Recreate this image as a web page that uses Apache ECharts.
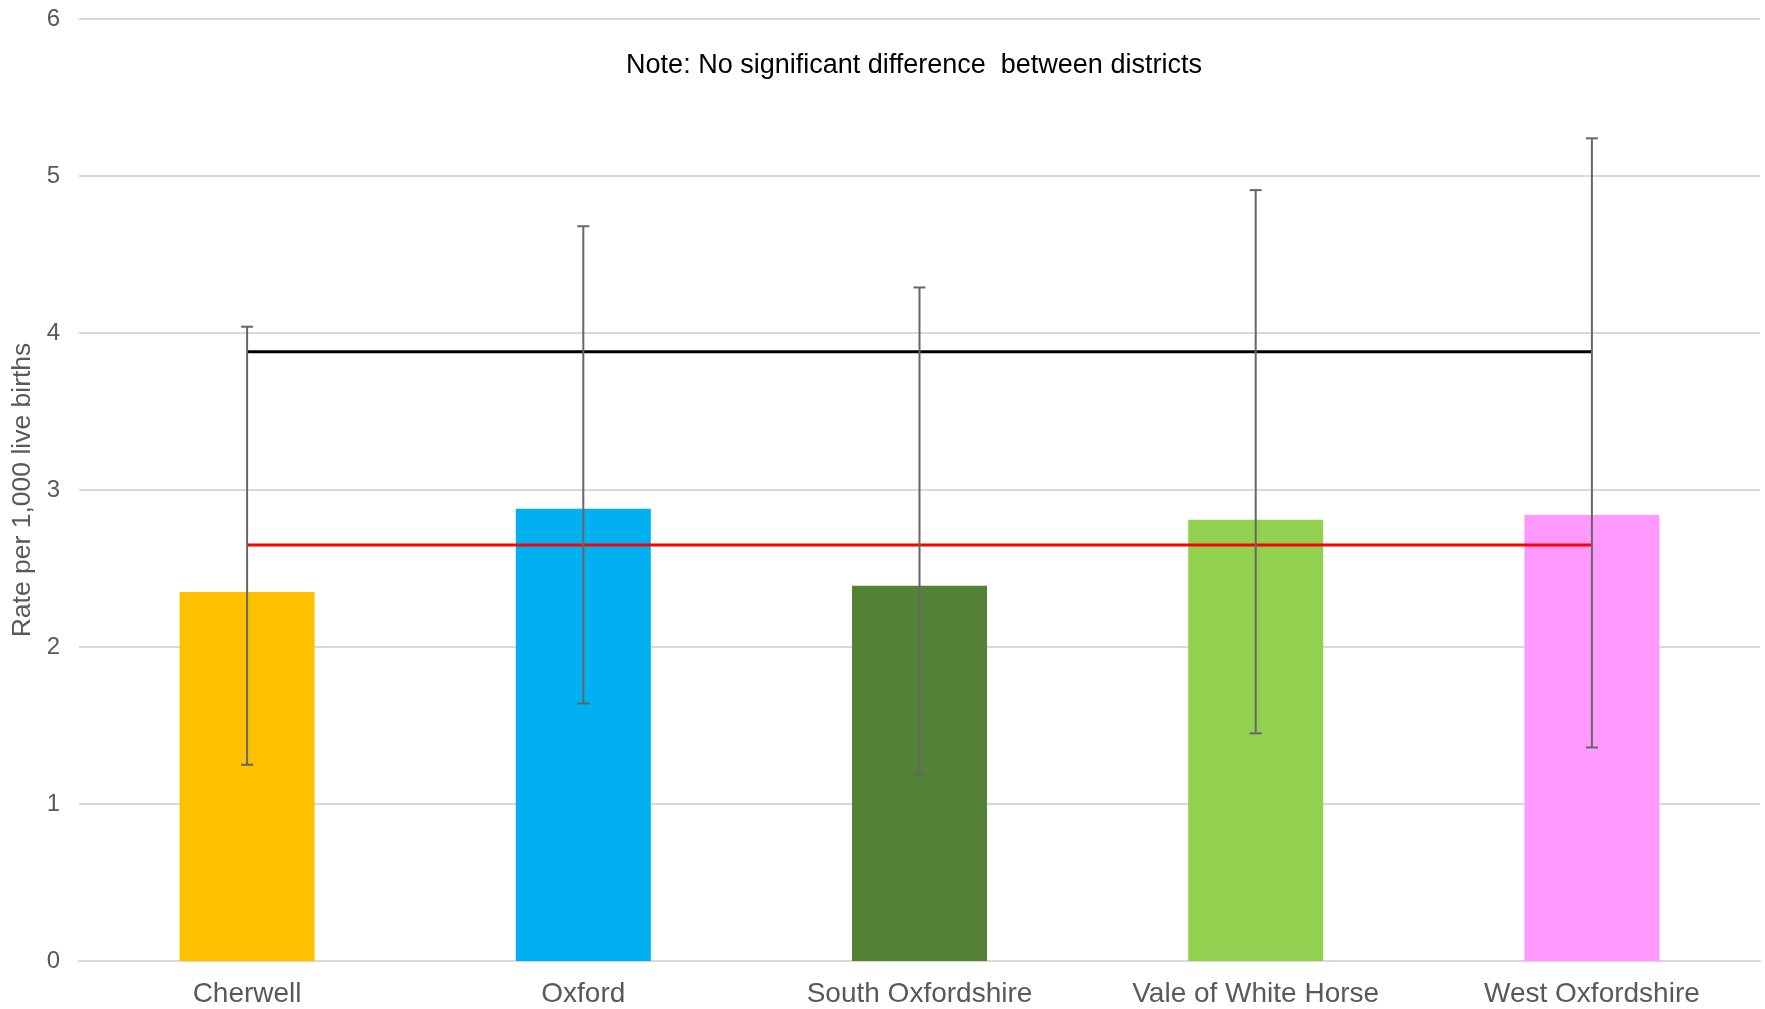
<!DOCTYPE html>
<html>
<head>
<meta charset="utf-8">
<script src="https://cdn.jsdelivr.net/npm/echarts@6/dist/echarts.min.js"></script>
<style>
html,body{margin:0;padding:0;background:#fff;}
#main{width:1765px;height:1009px;}
</style>
</head>
<body>
<div id="main"></div>
<script>
const categories = ['Cherwell', 'Oxford', 'South Oxfordshire', 'Vale of White Horse', 'West Oxfordshire'];
const rates = [2.35, 2.88, 2.39, 2.81, 2.84];
const lowerCI = [1.25, 1.64, 1.19, 1.45, 1.36];
const upperCI = [4.04, 4.68, 4.29, 4.91, 5.24];
const barColors = ['#FFC000', '#00B0F0', '#538135', '#92D050', '#FF99FF'];
const englandRate = [3.88, 3.88, 3.88, 3.88, 3.88];
const oxfordshireRate = [2.65, 2.65, 2.65, 2.65, 2.65];
const yTicks = [0, 1, 2, 3, 4, 5, 6];
const noteText = 'Note: No significant difference  between districts';

const chart = echarts.init(document.getElementById('main'), null, {renderer: 'canvas'});
const font = 'Liberation Sans, Arial, sans-serif';

chart.setOption({
  animation: false,
  backgroundColor: '#fff',
  grid: {left: 79, right: 5, top: 19, bottom: 48, containLabel: false},
  graphic: [{
    type: 'text',
    style: {text: noteText, x: 914, y: 66, fill: '#000', font: '27px ' + font, textAlign: 'center', textVerticalAlign: 'middle'}
  }],
  xAxis: {
    type: 'category',
    data: categories,
    axisLine: {show: true, lineStyle: {color: '#d9d9d9', width: 2}},
    axisTick: {show: false},
    axisLabel: {color: '#595959', fontSize: 28, fontFamily: font, margin: 19, interval: 0}
  },
  yAxis: {
    type: 'value',
    min: yTicks[0], max: yTicks[yTicks.length - 1], interval: 1,
    name: 'Rate per 1,000 live births',
    nameLocation: 'middle',
    nameGap: 40,
    nameTextStyle: {color: '#595959', fontSize: 26.5, fontFamily: font},
    axisLine: {show: false},
    axisTick: {show: false},
    axisLabel: {color: '#595959', fontSize: 24, fontFamily: font, margin: 19},
    splitLine: {lineStyle: {color: '#d9d9d9', width: 2}}
  },
  series: [
    {
      type: 'bar',
      barWidth: 135,
      data: rates.map((v, i) => ({value: v, itemStyle: {color: barColors[i]}})),
      z: 2
    },
    {
      type: 'line',
      data: englandRate,
      symbol: 'none',
      lineStyle: {color: '#000', width: 3},
      z: 3
    },
    {
      type: 'line',
      data: oxfordshireRate,
      symbol: 'none',
      lineStyle: {color: '#ff0000', width: 3},
      z: 3
    },
    {
      type: 'custom',
      data: categories.map((c, i) => [i, lowerCI[i], upperCI[i]]),
      encode: {x: 0, y: [1, 2]},
      z: 4,
      renderItem: function (params, api) {
        const x = api.value(0);
        const lo = api.coord([x, api.value(1)]);
        const hi = api.coord([x, api.value(2)]);
        const cap = 6;
        const style = {stroke: '#666666', lineWidth: 2};
        return {
          type: 'group',
          children: [
            {type: 'line', shape: {x1: lo[0], y1: lo[1], x2: hi[0], y2: hi[1]}, style: style},
            {type: 'line', shape: {x1: lo[0] - cap, y1: lo[1], x2: lo[0] + cap, y2: lo[1]}, style: style},
            {type: 'line', shape: {x1: hi[0] - cap, y1: hi[1], x2: hi[0] + cap, y2: hi[1]}, style: style}
          ]
        };
      }
    }
  ]
});
</script>
</body>
</html>
